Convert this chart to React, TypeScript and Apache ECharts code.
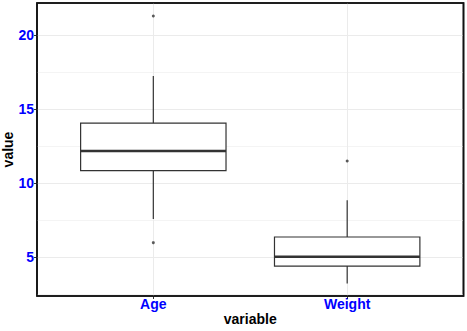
import React, { useEffect, useRef } from "react";
import * as echarts from "echarts";

const categories = ["Age", "Weight"];
// [lower whisker, Q1, median, Q3, upper whisker]
const boxStats = [
  [7.59, 10.85, 12.18, 14.05, 17.23],
  [3.24, 4.41, 5.04, 6.37, 8.85],
];
const outliers = [
  [1, 21.28],
  [1, 5.99],
  [2, 11.5],
];
const yTicks = [5, 10, 15, 20];
const yMinor = [2.5, 7.5, 12.5, 17.5];

export default function App() {
  const ref = useRef<HTMLDivElement>(null);
  useEffect(() => {
    if (!ref.current) return;
    const chart = echarts.init(ref.current, null, { renderer: "svg" });
    const boxData = boxStats.map((s, i) => [i + 1, ...s]);
    const labelStyle = {
      color: "#0000ff",
      fontWeight: "bold",
      fontSize: 14,
      fontFamily: "Liberation Sans",
    };
    const nameStyle = {
      color: "#000",
      fontWeight: "bold",
      fontSize: 14,
      fontFamily: "Liberation Sans",
    };
    chart.setOption({
      animation: false,
      grid: {
        left: 37,
        right: 3.5,
        top: 3,
        bottom: 35,
        outerBoundsMode: "none",
        containLabel: false,
        show: true,
        borderColor: "#111",
        borderWidth: 1.6,
        backgroundColor: "#fff",
      },
      xAxis: {
        type: "value",
        min: 0.4,
        max: 2.6,
        name: "variable",
        nameLocation: "middle",
        nameGap: 16,
        nameMoveOverlap: false,
        nameTextStyle: nameStyle,
        axisLine: { show: false },
        axisTick: { show: true, customValues: [1, 2], length: 3, lineStyle: { color: "#333" } },
        axisLabel: {
          customValues: [1, 2],
          formatter: (v: number) => categories[Math.round(v) - 1] ?? "",
          margin: 1,
          ...labelStyle,
        },
        splitLine: { show: true, lineStyle: { color: "#ebebeb", width: 1 } },
      },
      yAxis: [
        {
          type: "value",
          min: 2.39,
          max: 22.16,
          name: "value",
          nameLocation: "middle",
          nameGap: 22,
          nameMoveOverlap: false,
          nameTextStyle: nameStyle,
          axisLine: { show: false },
          axisTick: { show: true, customValues: yTicks, length: 3, lineStyle: { color: "#333" } },
          axisLabel: { customValues: yTicks, margin: 3, ...labelStyle },
          splitLine: { show: true, lineStyle: { color: "#ebebeb", width: 1 } },
        },
        {
          type: "value",
          min: 2.39,
          max: 22.16,
          position: "left",
          axisLine: { show: false },
          axisTick: { show: false, customValues: yMinor },
          axisLabel: { show: false, customValues: yMinor },
          splitLine: { show: true, lineStyle: { color: "#f4f4f4", width: 1 } },
        },
      ],
      graphic: [
        {
          type: "rect",
          shape: { x: 37, y: 3, width: 426.5, height: 293 },
          style: { fill: "none", stroke: "#111", lineWidth: 1.6 },
          z: 100,
          silent: true,
        },
      ],
      series: [
        {
          type: "custom",
          data: boxData,
          encode: { x: 0, y: [1, 2, 3, 4, 5] },
          z: 3,
          renderItem: (params: any, api: any) => {
            const x = api.value(0);
            const lo = api.coord([x, api.value(1)]);
            const q1 = api.coord([x, api.value(2)]);
            const med = api.coord([x, api.value(3)]);
            const q3 = api.coord([x, api.value(4)]);
            const hi = api.coord([x, api.value(5)]);
            const half = api.size([0.75, 0])[0] / 2;
            const stroke = { stroke: "#333", lineWidth: 1.2 };
            return {
              type: "group",
              children: [
                { type: "line", shape: { x1: hi[0], y1: hi[1], x2: q3[0], y2: q3[1] }, style: stroke },
                { type: "line", shape: { x1: q1[0], y1: q1[1], x2: lo[0], y2: lo[1] }, style: stroke },
                {
                  type: "rect",
                  shape: { x: q3[0] - half, y: q3[1], width: half * 2, height: q1[1] - q3[1] },
                  style: { fill: "#fff", stroke: "#333", lineWidth: 1.2 },
                },
                {
                  type: "line",
                  shape: { x1: med[0] - half, y1: med[1], x2: med[0] + half, y2: med[1] },
                  style: { stroke: "#333", lineWidth: 2.5 },
                },
              ],
            };
          },
        },
        {
          type: "scatter",
          data: outliers,
          symbol: "circle",
          symbolSize: 3,
          itemStyle: { color: "#333" },
          z: 4,
        },
      ],
    });
    return () => chart.dispose();
  }, []);
  return (
    <div
      ref={ref}
      style={{ width: 467, height: 331, position: "absolute", left: 0, top: 0 }}
    />
  );
}
